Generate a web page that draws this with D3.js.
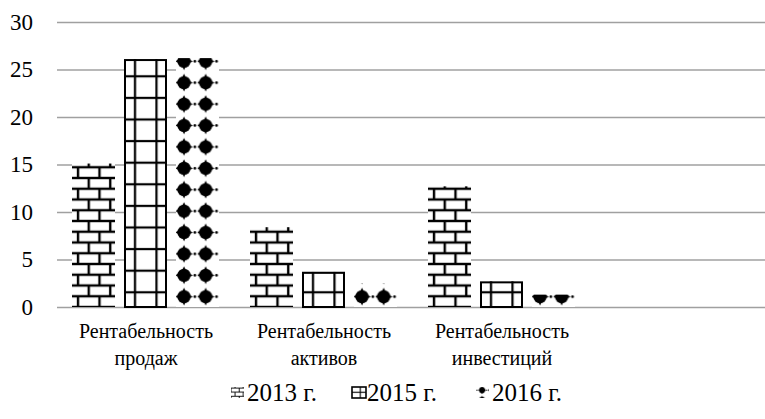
<!DOCTYPE html>
<html><head><meta charset="utf-8">
<script src="https://cdn.jsdelivr.net/npm/d3@7"></script>
<style>
@font-face { font-family: 'ChartSerif'; src: local('Liberation Serif'), local('LiberationSerif'), local('Tinos'), local('Times New Roman'); }
</style>
</head><body style="margin:0;background:#fff">
<svg id="c" width="765" height="419"></svg>
<script>
const categories = ["Рентабельность продаж", "Рентабельность активов", "Рентабельность инвестиций"];
const seriesNames = ["2013 г.", "2015 г.", "2016 г."];
const v2013 = [15.1, 8.4, 12.7];
const v2015 = [26.1, 3.7, 2.7];
const v2016 = [26.2, 2.5, 1.3];
const yTicks = [0, 5, 10, 15, 20, 25, 30];

const series = [v2013, v2015, v2016];
const patIds = ["brick", "grid", "dots"];
const FONT = "'Liberation Serif', 'ChartSerif', 'Tinos', 'Times New Roman'";

const svg = d3.select("#c");
const defs = svg.append("defs");

// ---- patterns ----
function brick(id, s) {
  const p = defs.append("pattern").attr("id", id).attr("patternUnits", "userSpaceOnUse")
    .attr("width", 21.5).attr("height", 21.5);
  if (s !== 1) p.attr("patternTransform", `scale(${s})`);
  p.append("rect").attr("width", 21.5).attr("height", 21.5).attr("fill", "#fff");
  const lw = 2.4;
  p.append("rect").attr("x", 0).attr("y", 0).attr("width", 21.5).attr("height", lw / 2).attr("fill", "#000");
  p.append("rect").attr("x", 0).attr("y", 21.5 - lw / 2).attr("width", 21.5).attr("height", lw / 2).attr("fill", "#000");
  p.append("rect").attr("x", 0).attr("y", 10.75 - lw / 2).attr("width", 21.5).attr("height", lw).attr("fill", "#000");
  p.append("rect").attr("x", 6 - lw / 2).attr("y", 10.75).attr("width", lw).attr("height", 10.75).attr("fill", "#000");
  p.append("rect").attr("x", 16.75 - lw / 2).attr("y", 0).attr("width", lw).attr("height", 10.75).attr("fill", "#000");
}
function grid(id, s) {
  const p = defs.append("pattern").attr("id", id).attr("patternUnits", "userSpaceOnUse")
    .attr("width", 21.5).attr("height", 21.6);
  if (s !== 1) p.attr("patternTransform", `scale(${s})`);
  p.append("rect").attr("width", 21.5).attr("height", 21.6).attr("fill", "#fff");
  p.append("rect").attr("x", 11 - 1.1).attr("y", 0).attr("width", 2.2).attr("height", 21.6).attr("fill", "#000");
  p.append("rect").attr("x", 0).attr("y", 6.9 - 1.1).attr("width", 21.5).attr("height", 2.2).attr("fill", "#000");
}
function dots(id, s) {
  const p = defs.append("pattern").attr("id", id).attr("patternUnits", "userSpaceOnUse")
    .attr("width", 21.7).attr("height", 21.4);
  if (s !== 1) p.attr("patternTransform", `scale(${s})`);
  p.append("rect").attr("width", 21.7).attr("height", 21.4).attr("fill", "#fff");
  const cx = 8, cy = 11.1, r = 8.8;
  p.append("circle").attr("cx", cx).attr("cy", cy).attr("r", 6.6).attr("fill", "#000");
  p.append("path").attr("fill", "#000")
    .attr("d", `M${cx},${cy - r} Q${cx + 2.6},${cy - 2.6} ${cx + r},${cy} Q${cx + 2.6},${cy + 2.6} ${cx},${cy + r} Q${cx - 2.6},${cy + 2.6} ${cx - r},${cy} Q${cx - 2.6},${cy - 2.6} ${cx},${cy - r}Z`);
  p.append("circle").attr("cx", cx + 10.85).attr("cy", cy).attr("r", 1.4).attr("fill", "#000");
}
brick("brick", 1); grid("grid", 1); dots("dots", 1);
brick("brickL", 0.38); grid("gridL", 0.5); dots("dotsL", 0.45);

// ---- scales ----
const y = d3.scaleLinear().domain([0, 30]).range([307, 22]);
const x0 = d3.scaleBand().domain(categories).range([57, 591]).paddingInner(0).paddingOuter(0);
const x1 = d3.scaleBand().domain(d3.range(series.length)).range([15, 162]).paddingInner(0.173).paddingOuter(0);

// ---- gridlines ----
const yAxis = d3.axisLeft(y).tickValues(yTicks).tickSize(-(765 - 57)).tickFormat("");
const ga = svg.append("g").attr("transform", "translate(57,0)").call(yAxis);
ga.select(".domain").remove();
ga.selectAll(".tick line").attr("stroke", "#a0a0a0").attr("stroke-width", 1.3);

// ---- y labels ----
yTicks.forEach(t => {
  svg.append("text").attr("x", 33).attr("y", y(t) + 7.8)
    .attr("text-anchor", "end").style("font-family", FONT)
    .attr("font-size", 23).attr("fill", "#000").text(t);
});

// ---- bars ----
categories.forEach((c, ci) => {
  series.forEach((vals, si) => {
    const bx = x0(c) + x1(si);
    const h = y(0) - y(vals[ci]);
    const g = svg.append("g").attr("transform", `translate(${bx},${y(0)})`);
    g.append("rect").attr("x", 0).attr("y", -h)
      .attr("width", x1.bandwidth()).attr("height", h)
      .attr("fill", `url(#${patIds[si]})`);
    if (si === 1) {
      g.append("rect").attr("x", 1).attr("y", -h + 1)
        .attr("width", x1.bandwidth() - 2).attr("height", h - 1)
        .attr("fill", "none").attr("stroke", "#000").attr("stroke-width", 2);
    }
  });
});

// ---- category labels ----
categories.forEach(c => {
  const cx = x0(c) + x0.bandwidth() / 2;
  const words = c.split(" ");
  words.forEach((w, i) => {
    svg.append("text").attr("x", cx).attr("y", 338 + i * 27)
      .attr("text-anchor", "middle").style("font-family", FONT)
      .attr("font-size", 20).attr("fill", "#000").text(w);
  });
});

// ---- legend ----
const legX = [231, 351, 476];
seriesNames.forEach((n, i) => {
  const lx = legX[i];
  if (i === 0) {
    svg.append("rect").attr("x", lx).attr("y", 387).attr("width", 13).attr("height", 11).attr("fill", "url(#brickL)");
  } else if (i === 1) {
    svg.append("rect").attr("x", lx + 1).attr("y", 387).attr("width", 14).attr("height", 11)
      .attr("fill", "url(#gridL)").attr("stroke", "#000").attr("stroke-width", 1.6);
  } else {
    svg.append("rect").attr("x", lx).attr("y", 387).attr("width", 13).attr("height", 11).attr("fill", "url(#dotsL)");
  }
  svg.append("text").attr("x", lx + 16).attr("y", 401)
    .style("font-family", FONT)
    .attr("font-size", 25).attr("fill", "#000").text(n);
});
</script>
</body></html>
